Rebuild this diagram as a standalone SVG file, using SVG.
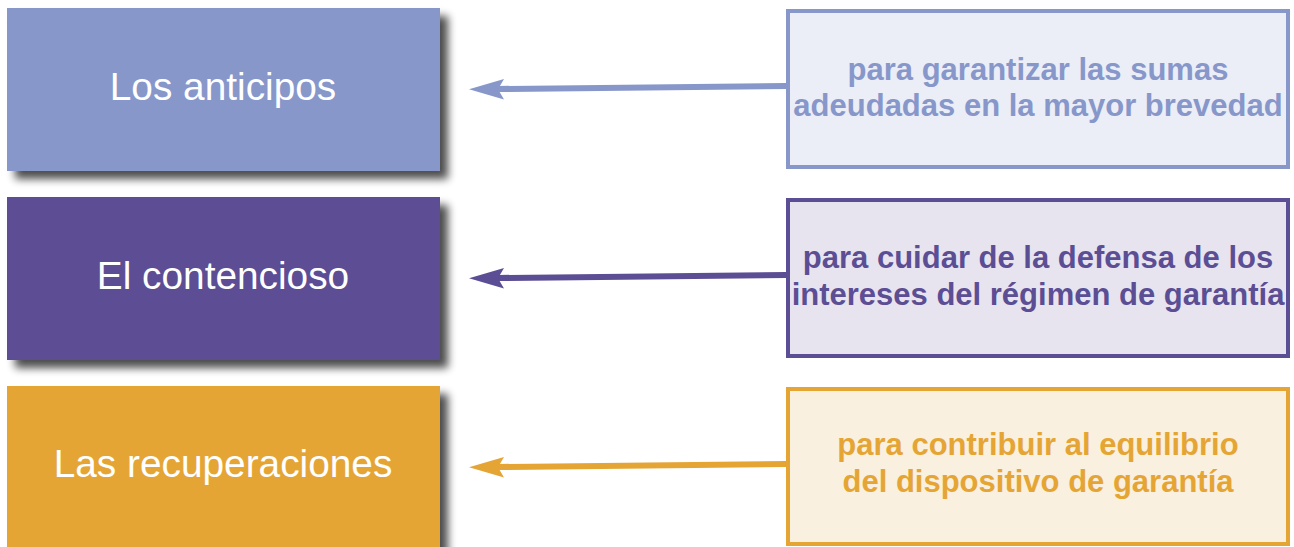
<svg xmlns="http://www.w3.org/2000/svg" width="1294" height="547" viewBox="0 0 1294 547">
<style>
.lt{font-family:"Liberation Sans",Arial,sans-serif;font-size:38.8px;fill:#fff;text-anchor:middle}
.rt{font-family:"Liberation Sans",Arial,sans-serif;font-size:31px;font-weight:bold;text-anchor:middle}
</style>
<defs>
<filter id="sh" x="-10%" y="-20%" width="130%" height="150%">
<feGaussianBlur in="SourceAlpha" stdDeviation="4"/>
<feOffset dx="8" dy="8" result="b"/>
<feComponentTransfer><feFuncA type="linear" slope="0.7"/></feComponentTransfer>
<feMerge><feMergeNode/><feMergeNode in="SourceGraphic"/></feMerge>
</filter>
</defs>
<rect width="1294" height="547" fill="#fff"/>
<g id="n1"><rect x="7" y="8" width="433" height="163" fill="#8797CA" filter="url(#sh)"/><text class="lt" x="223" y="100">Los anticipos</text></g>
<g id="n2"><rect x="7" y="197" width="433" height="163" fill="#5C4E94" filter="url(#sh)"/><text class="lt" x="223" y="289">El contencioso</text></g>
<g id="n3"><rect x="7" y="386" width="433" height="170" fill="#E5A535" filter="url(#sh)"/><text class="lt" x="223" y="477">Las recuperaciones</text></g>
<g id="r1"><rect x="788" y="11" width="500" height="156" fill="#EBEEF7" stroke="#8797CA" stroke-width="4"/><text class="rt" fill="#8797CA" x="1038" y="80">para garantizar las sumas</text><text class="rt" fill="#8797CA" x="1038" y="116">adeudadas en la mayor brevedad</text></g>
<g id="r2"><rect x="788" y="200" width="500" height="156" fill="#E8E4EF" stroke="#5C4E94" stroke-width="4"/><text class="rt" fill="#5C4E94" x="1038" y="268">para cuidar de la defensa de los</text><text class="rt" fill="#5C4E94" x="1038" y="305">intereses del régimen de garantía</text></g>
<g id="r3"><rect x="788" y="389" width="500" height="155" fill="#FAF0DF" stroke="#E5A535" stroke-width="4"/><text class="rt" fill="#E5A535" x="1038" y="455">para contribuir al equilibrio</text><text class="rt" fill="#E5A535" x="1038" y="492">del dispositivo de garantía</text></g>
<g id="connectors" stroke-width="6" fill="none">
<path d="M786,86 L498,89" stroke="#8797CA"/><path d="M469,89.3 L504,79 L498,89.2 L504,99.5 Z" fill="#8797CA"/>
<path d="M786,275 L498,278" stroke="#5C4E94"/><path d="M469,278.3 L504,268 L498,278.2 L504,288.5 Z" fill="#5C4E94"/>
<path d="M786,464 L498,467" stroke="#E5A535"/><path d="M469,467.3 L504,457 L498,467.2 L504,477.5 Z" fill="#E5A535"/>
</g>
</svg>
